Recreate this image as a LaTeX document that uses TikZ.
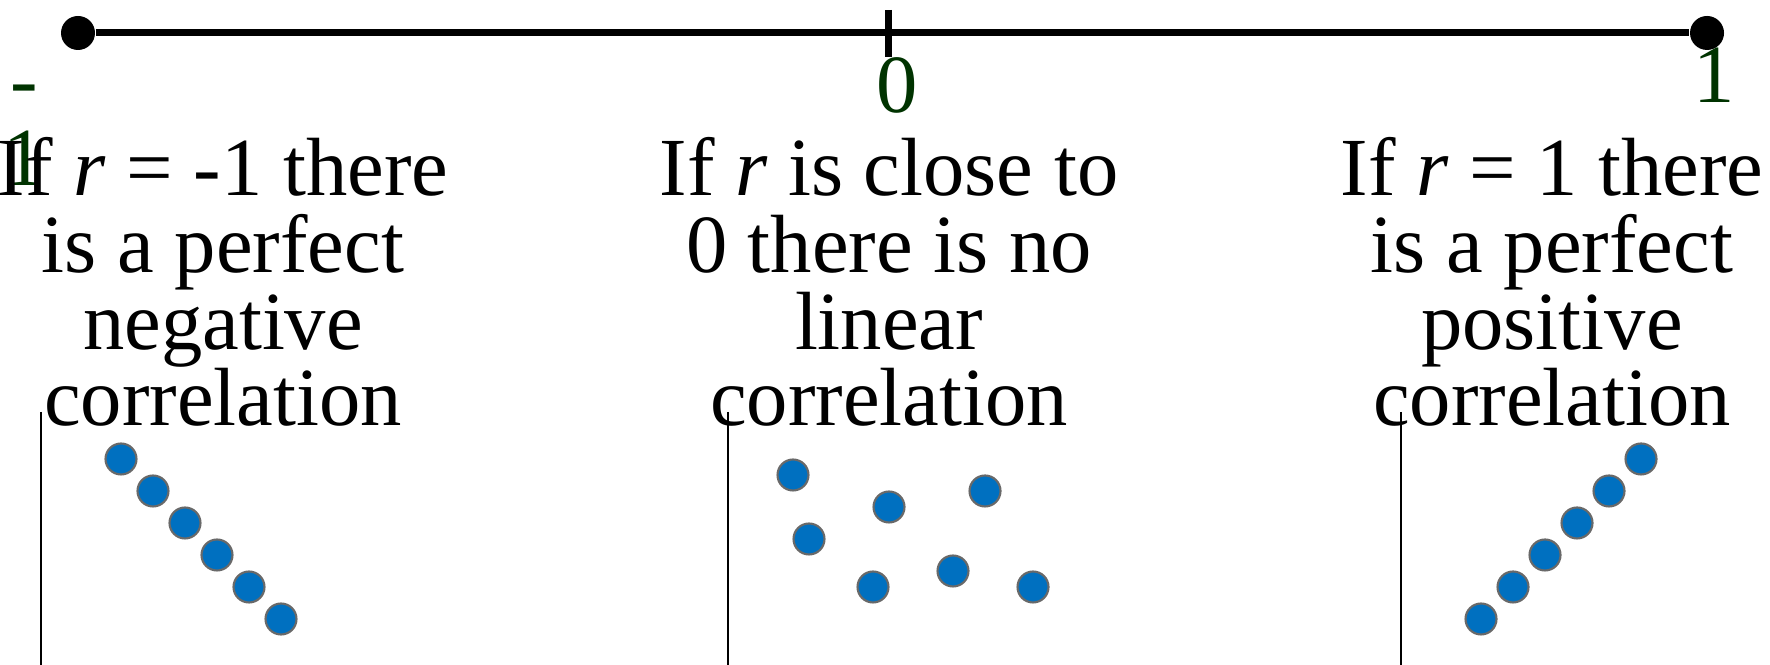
\documentclass[tikz,border=0pt]{standalone}
\usepackage{fontspec}
\setmainfont{Liberation Serif}
\usetikzlibrary{positioning}
\definecolor{tLab}{RGB}{0,51,0}
\definecolor{tDot}{RGB}{0,112,192}
\definecolor{tRim}{RGB}{105,105,105}
\tikzset{
  enddot/.style={circle,fill=black,inner sep=0pt,minimum size=0.34cm},
  numline/.style={line width=0.07cm},
  axisline/.style={line width=0.6pt},
  pt/.style={circle,fill=tDot,draw=tRim,line width=0.6pt,inner sep=0pt,minimum size=0.31cm},
  blurb/.style={align=center,inner sep=0pt,font=\fontsize{23.5}{21.9}\selectfont},
  lab/.style={text=tLab,inner sep=0pt,font=\fontsize{23.5}{22.2}\selectfont}
}

\begin{document}
\begin{tikzpicture}
    \useasboundingbox (0,0) rectangle (17.7,6.65);

    % number line
    \node[enddot] (neg) at (0.78, 6.32) {};
    \node[enddot] (pos) at (17.07, 6.32) {};
    \coordinate (zero) at (8.88, 6.32);
    \draw[numline] (neg) -- (pos);
    \draw[numline] ([yshift=0.23cm]zero) -- ([yshift=-0.24cm]zero);

    \node[lab,align=center,anchor=base] (lneg) at (0.24, 4.79) {-\\1};
    \node[lab,anchor=base] (lzero) at (8.97, 5.52) {0};
    \node[lab,anchor=base] (lpos) at (17.14, 5.62) {1};

    % the three cases (anchored on the last line)
    \node[blurb,anchor=base] (negtxt) at (2.23, 2.39) {If \textit{r} = -1 there\\is a perfect\\negative\\correlation};
    \node[blurb,anchor=base] (zerotxt) at (8.89, 2.39) {If \textit{r} is close to\\0 there is no\\linear\\correlation};
    \node[blurb,anchor=base] (postxt) at (15.52, 2.39) {If \textit{r} = 1 there\\is a perfect\\positive\\correlation};

    % axes
    \coordinate (ax1) at (0.41, 2.53);
    \coordinate (ax2) at (7.28, 2.53);
    \coordinate (ax3) at (14.01, 2.53);
    \draw[axisline] (ax1) -- (ax1 |- 0,0);
    \draw[axisline] (ax2) -- (ax2 |- 0,0);
    \draw[axisline] (ax3) -- (ax3 |- 0,0);

    % scatter points
    \foreach \k in {0,...,5}
        \node[pt] (dn\k) at (1.21+0.32*\k, 2.06-0.32*\k) {};
    \foreach \x/\y [count=\i] in {7.93/1.90, 8.09/1.26, 8.89/1.58, 8.73/0.78, 9.85/1.74, 9.53/0.94, 10.33/0.78}
        \node[pt] (dz\i) at (\x, \y) {};
    \foreach \k in {0,...,5}
        \node[pt] (dp\k) at (14.81+0.32*\k, 0.46+0.32*\k) {};
\end{tikzpicture}
\end{document}
